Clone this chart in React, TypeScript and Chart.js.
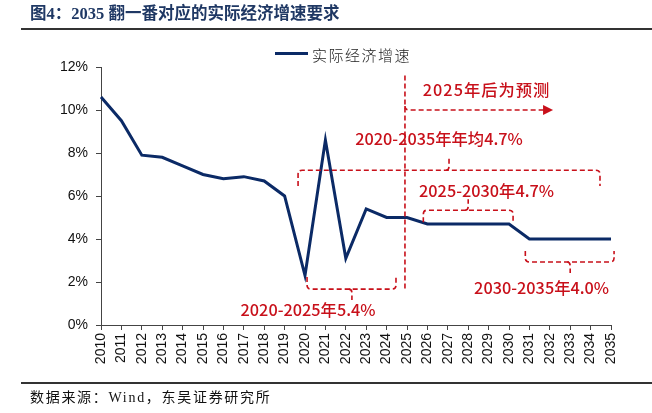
import React, { useEffect, useRef } from "react";
import { Chart, registerables } from "chart.js";

Chart.register(...registerables);

const years = [
  "2010", "2011", "2012", "2013", "2014", "2015", "2016", "2017", "2018",
  "2019", "2020", "2021", "2022", "2023", "2024", "2025", "2026", "2027",
  "2028", "2029", "2030", "2031", "2032", "2033", "2034", "2035",
];
const growth = [
  10.6, 9.5, 7.9, 7.8, 7.4, 7.0, 6.8, 6.9, 6.7, 6.0, 2.3, 8.6, 3.1, 5.4, 5.0,
  5.0, 4.7, 4.7, 4.7, 4.7, 4.7, 4.0, 4.0, 4.0, 4.0, 4.0,
];
const yTicks = [0, 2, 4, 6, 8, 10, 12];

const seriesName = "实际经济增速";
const titleText = "图4：2035 翻一番对应的实际经济增速要求";
const sourceText = "数据来源：Wind，东吴证券研究所";

// annotation values in data units (x = category index, y = %)
const braceLabels = ["2020-2035年年均4.7%", "2025-2030年4.7%", "2020-2025年5.4%", "2030-2035年4.0%"];
const braceFrom = [9.66, 15.8, 10.1, 20.8];
const braceTo = [24.46, 20.2, 14.46, 25.15];
const braceLevel = [7.2, 5.34, 1.67, 2.93];
const braceEnd = [6.46, 4.78, 2.23, 3.44];
const braceNotchX = [17.06, 18.0, 12.3, 23.0];
const braceNotchY = [7.8, 5.85, 1.16, 2.42];
const braceTextX = [16.57, 18.9, 10.15, 21.6];
const braceTextY = [8.64, 6.22, 0.7, 1.72];

const forecastLabel = "2025年后为预测";
const forecastX = 14.9;
const forecastTop = 11.6;
const forecastBottom = 1.63;
const arrowY = 10.0;
const arrowEndX = 22.16;
const forecastTextX = 18.9;
const forecastTextY = 10.96;

const NAVY = "#0b2a66";
const RED = "#c8101a";

const notesPlugin = {
  id: "notes",
  afterDatasetsDraw(chart: any) {
    const { ctx, scales } = chart;
    const xs = scales.x;
    const ys = scales.y;
    const px = (v: number) => xs.getPixelForValue(v);
    const py = (v: number) => ys.getPixelForValue(v);
    ctx.save();
    ctx.strokeStyle = RED;
    ctx.fillStyle = RED;
    ctx.lineWidth = 1.6;
    ctx.setLineDash([5, 3]);
    const r = 4;

    for (let i = 0; i < braceLabels.length; i++) {
      const x1 = px(braceFrom[i]);
      const x2 = px(braceTo[i]);
      const yl = py(braceLevel[i]);
      const ye = py(braceEnd[i]);
      const xn = px(braceNotchX[i]);
      const yn = py(braceNotchY[i]);
      const dir = ye > yl ? 1 : -1;
      ctx.beginPath();
      ctx.moveTo(x1, ye);
      ctx.lineTo(x1, yl + dir * r);
      ctx.quadraticCurveTo(x1, yl, x1 + r, yl);
      ctx.lineTo(x2 - r, yl);
      ctx.quadraticCurveTo(x2, yl, x2, yl + dir * r);
      ctx.lineTo(x2, ye);
      ctx.stroke();
      ctx.beginPath();
      ctx.moveTo(xn - 3, yl);
      ctx.quadraticCurveTo(xn, yl, xn, yl - dir * 4);
      ctx.lineTo(xn, yn);
      ctx.stroke();
    }

    // forecast divider + arrow
    const fx = px(forecastX);
    const ay = py(arrowY);
    const ax = px(arrowEndX);
    ctx.beginPath();
    ctx.moveTo(fx, py(forecastTop));
    ctx.lineTo(fx, py(forecastBottom));
    ctx.stroke();
    ctx.beginPath();
    ctx.moveTo(fx, ay - r);
    ctx.quadraticCurveTo(fx, ay, fx + r, ay);
    ctx.lineTo(ax - 9, ay);
    ctx.stroke();
    ctx.setLineDash([]);
    ctx.beginPath();
    ctx.moveTo(ax, ay);
    ctx.lineTo(ax - 10, ay - 5);
    ctx.lineTo(ax - 10, ay + 5);
    ctx.closePath();
    ctx.fill();

    ctx.font = '500 16.3px "Noto Sans CJK SC"';
    ctx.textAlign = "center";
    ctx.textBaseline = "middle";
    for (let i = 0; i < braceLabels.length; i++) {
      ctx.fillText(braceLabels[i], px(braceTextX[i]), py(braceTextY[i]));
    }
    ctx.letterSpacing = "1px";
    ctx.fillText(forecastLabel, px(forecastTextX), py(forecastTextY));
    ctx.restore();
  },
};

export default function App() {
  const ref = useRef<HTMLCanvasElement | null>(null);

  useEffect(() => {
    if (!ref.current) return;
    const chart = new Chart(ref.current, {
      type: "line",
      data: {
        labels: years,
        datasets: [
          {
            label: seriesName,
            data: growth,
            borderColor: NAVY,
            backgroundColor: NAVY,
            borderWidth: 3,
            pointRadius: 0,
            tension: 0,
          },
        ],
      },
      options: {
        animation: false,
        responsive: false,
        devicePixelRatio: 1,
        layout: { padding: { top: 67, right: 41, left: 0, bottom: 0 } },
        plugins: { legend: { display: false }, title: { display: false }, tooltip: { enabled: false } },
        scales: {
          x: {
            type: "category",
            offset: false,
            grid: { display: true, drawOnChartArea: false, drawTicks: true, tickLength: 5, color: "#444" },
            border: { display: true, color: "#444", width: 1 },
            ticks: {
              autoSkip: false,
              maxRotation: 90,
              minRotation: 90,
              padding: 3,
              color: "#111",
              font: { family: '"Liberation Sans", Arial', size: 14 },
            },
            afterFit: (s: any) => {
              s.height = 88;
            },
          },
          y: {
            min: 0,
            max: 12,
            afterBuildTicks: (s: any) => {
              s.ticks = yTicks.map((v) => ({ value: v }));
            },
            grid: { display: true, drawOnChartArea: false, drawTicks: true, tickLength: 5, color: "#444" },
            border: { display: true, color: "#444", width: 1 },
            ticks: {
              padding: 8,
              color: "#111",
              font: { family: '"Liberation Sans", Arial', size: 14 },
              callback: (v: any) => v + "%",
            },
            afterFit: (s: any) => {
              s.width = 101;
            },
          },
        },
      },
      plugins: [notesPlugin],
    });
    return () => chart.destroy();
  }, []);

  return (
    <div style={{ position: "absolute", left: 0, top: 0, width: 652, height: 413, background: "#fff", overflow: "hidden" }}>
      <canvas ref={ref} width={652} height={413} style={{ position: "absolute", left: 0, top: 0, width: 652, height: 413 }} />
      <div
        style={{
          position: "absolute", left: 30, top: 3, fontSize: 16.5, lineHeight: "22px", fontWeight: 700,
          fontFamily: '"Liberation Serif", "Noto Sans CJK SC", serif', color: "#1f3864", whiteSpace: "nowrap",
        }}
      >
        {titleText}
      </div>
      <div style={{ position: "absolute", left: 21, top: 28, width: 631, height: 2, background: "#333" }} />
      <div style={{ position: "absolute", left: 275, top: 52, width: 33, height: 3, background: NAVY }} />
      <div
        style={{
          position: "absolute", left: 312, top: 45, fontSize: 15, lineHeight: "20px", letterSpacing: "1.5px",
          fontFamily: '"Noto Sans CJK SC", sans-serif', fontWeight: 300, color: "#222", whiteSpace: "nowrap",
        }}
      >
        {seriesName}
      </div>
      <div style={{ position: "absolute", left: 21, top: 382, width: 631, height: 2, background: "#333" }} />
      <div
        style={{
          position: "absolute", left: 30, top: 389, fontSize: 14, lineHeight: "18px", letterSpacing: "1.7px",
          fontFamily: '"Liberation Serif", "Noto Sans CJK SC", serif', color: "#111", whiteSpace: "nowrap",
        }}
      >
        {sourceText}
      </div>
    </div>
  );
}
